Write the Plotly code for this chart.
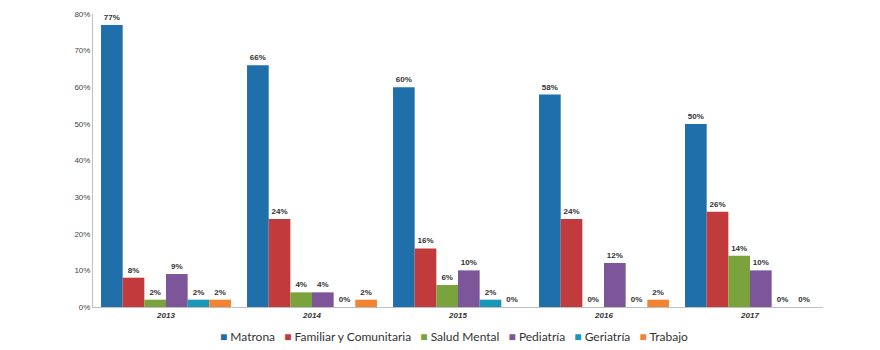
import plotly.graph_objects as go

years = ["2013", "2014", "2015", "2016", "2017"]
series_names = ["Matrona", "Familiar y Comunitaria", "Salud Mental", "Pediatría", "Geriatría", "Trabajo"]
matrona = [77, 66, 60, 58, 50]
familiar = [8, 24, 16, 24, 26]
salud_mental = [2, 4, 6, 0, 14]
pediatria = [9, 4, 10, 12, 10]
geriatria = [2, 0, 2, 0, 0]
trabajo = [2, 2, 0, 2, 0]
colors = ["#1F6FAA", "#C23B3C", "#7AA33E", "#7C5699", "#1898B6", "#F08433"]
y_ticks = [0, 10, 20, 30, 40, 50, 60, 70, 80]

values = [matrona, familiar, salud_mental, pediatria, geriatria, trabajo]

fig = go.Figure()
for name, vals, col in zip(series_names, values, colors):
    fig.add_trace(go.Bar(
        x=years, y=vals, name=name,
        marker=dict(color=col, line=dict(width=0)),
        text=[f"<b>{v}%</b>" for v in vals],
        textposition="outside",
        outsidetextfont=dict(size=8, color="#333333", family="Liberation Sans"),
        textfont=dict(size=8, color="#333333", family="Liberation Sans"),
        cliponaxis=False,
        showlegend=False,
    ))

legend_text = "   ".join(
    f"<span style='color:{c}'>■</span> {n}" for n, c in zip(series_names, colors)
)
fig.add_annotation(
    text=legend_text, xref="paper", yref="paper", x=0.495, y=-0.1,
    xanchor="center", yanchor="middle", showarrow=False,
    font=dict(size=12, color="#333333", family="Lato"),
)

fig.update_layout(
    width=880, height=350,
    margin=dict(l=93, r=57, t=10, b=43),
    barmode="group",
    bargap=0.11,
    bargroupgap=0,
    plot_bgcolor="white",
    paper_bgcolor="white",
    font=dict(family="Lato", color="#333333"),
    showlegend=False,
)
fig.update_xaxes(
    tickmode="array", tickvals=years,
    ticktext=[f"<b><i>{y}</i></b>" for y in years],
    tickfont=dict(size=8, color="#333333", family="Liberation Sans"),
    showline=True, linecolor="#BFBFBF", linewidth=1,
    ticks="", showgrid=False,
)
fig.update_yaxes(
    range=[0, 80], tickmode="array", tickvals=y_ticks,
    ticktext=[f"{t}%" for t in y_ticks],
    tickfont=dict(size=8, color="#444444", family="Liberation Sans"),
    showline=True, linecolor="#BFBFBF", linewidth=1,
    showgrid=False, zeroline=False, ticks="",
)

fig.write_html("out.html")
